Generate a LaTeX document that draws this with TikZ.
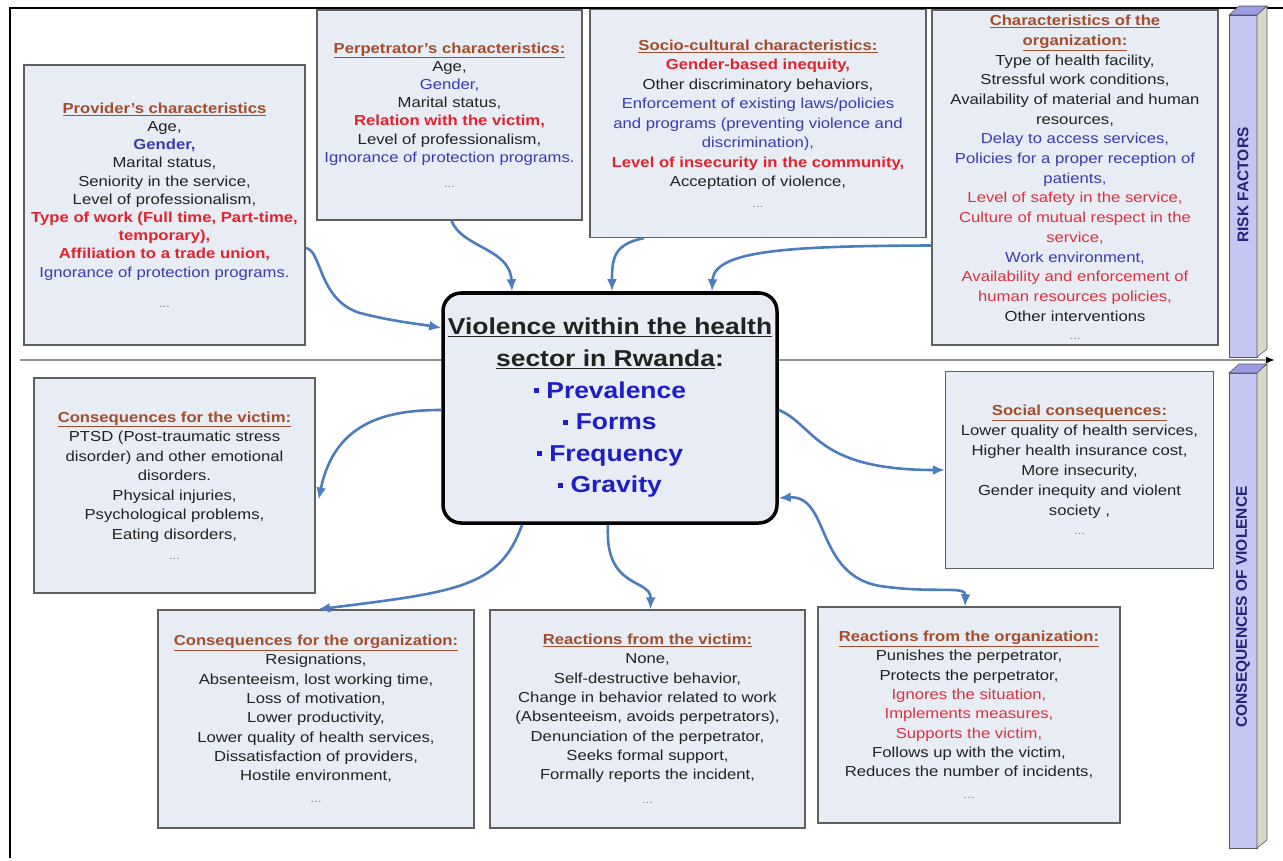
\documentclass[tikz,border=0pt]{standalone}
\usepackage{fontspec}
\setmainfont{Liberation Sans}[FakeStretch=1.15]
\newfontfamily\barfont{Liberation Sans}
\usetikzlibrary{arrows.meta,calc}
\definecolor{boxfill}{HTML}{E7ECF5}
\definecolor{boxline}{HTML}{5F5F5F}
\definecolor{ttl}{HTML}{A34E2B}
\definecolor{tblue}{HTML}{3A3AB5}
\definecolor{tred}{HTML}{E3222C}
\definecolor{tredl}{HTML}{E0303E}
\definecolor{tblack}{HTML}{222222}
\definecolor{linkblue}{HTML}{4C7DBE}
\definecolor{cblue}{HTML}{1E1EC8}
\definecolor{barfront}{HTML}{C6C6F2}
\definecolor{barside}{HTML}{D9D9C9}
\definecolor{bartop}{HTML}{9C9CE6}
\definecolor{bartext}{HTML}{23237A}
\newcommand{\mkttl}[1]{{\bfseries\color{ttl}\underline{#1}}}
\newcommand{\mkblue}[1]{{\color{tblue}#1}}
\newcommand{\mkblueb}[1]{{\color{tblue}\bfseries #1}}
\newcommand{\mkredb}[1]{{\color{tred}\bfseries #1}}
\newcommand{\mkred}[1]{{\color{tredl}#1}}
\newcommand{\mkdots}{{\color{gray}\fontsize{11}{11}\selectfont ...}}
\newcommand{\mkbullet}{\raisebox{0.22em}{\rule{0.22em}{0.22em}}}
\begin{document}
\begin{tikzpicture}[x=1pt,y=-1pt,
  >={Latex[length=12pt,width=10pt]},
  infobox/.style={draw=boxline, line width=1.3pt, fill=boxfill, inner sep=0pt,
    align=center, text=tblack},
  linkarrow/.style={draw=linkblue, line width=2.6pt, ->},
  dblarrow/.style={draw=linkblue, line width=2.6pt, <->},
  sepline/.style={draw=gray!85, line width=2pt, -{Latex[length=9pt,width=7pt,black]}},
  bartxt/.style={rotate=90, text=bartext, font=\barfont\bfseries\fontsize{15.5}{16}\selectfont},
  barface/.style={draw=gray!70!black, line width=0.6pt}
]
\useasboundingbox (0,0) rectangle (1283,861);
\fill[white] (0,0) rectangle (1283,861);
% outer frame
\draw[line width=2pt] (10,858) -- (10,8) -- (1283,8);
% separator
\coordinate (sepL) at (20,360);
\coordinate (sepR) at (1275,360);
\draw[sepline] (sepL) -- (sepR);

% right bars
\filldraw[barface, fill=barfront] (1229,15) rectangle (1257,357);
\filldraw[barface, fill=bartop] (1229,15) -- (1239,6) -- (1267,6) -- (1257,15) -- cycle;
\filldraw[barface, fill=barside] (1257,15) -- (1267,6) -- (1267,349) -- (1257,357) -- cycle;
\node[bartxt] (riskt) at (1243,185) {RISK FACTORS};
\filldraw[barface, fill=barfront] (1229,373) rectangle (1257,848);
\filldraw[barface, fill=bartop] (1229,373) -- (1239,364) -- (1267,364) -- (1257,373) -- cycle;
\filldraw[barface, fill=barside] (1257,373) -- (1267,364) -- (1267,840) -- (1257,848) -- cycle;
\node[bartxt] (const) at (1243,607) {CONSEQUENCES OF VIOLENCE};

% risk factor boxes
\node[infobox, minimum width=281, minimum height=280, font=\fontsize{14.5}{18.2}\selectfont] (prov) at (164.5,205) {%
\mkttl{Provider's characteristics}\\
Age,\\
\mkblueb{Gender,}\\
Marital status,\\
Seniority in the service,\\
Level of professionalism,\\
\mkredb{Type of work (Full time, Part-time,}\\
\mkredb{temporary),}\\
\mkredb{Affiliation to a trade union,}\\
\mkblue{Ignorance of protection programs.}\\[12pt]
\mkdots};

\node[infobox, minimum width=265, minimum height=210, font=\fontsize{14.5}{18.2}\selectfont] (perp) at (449.5,115) {%
\mkttl{Perpetrator's characteristics:}\\
Age,\\
\mkblue{Gender,}\\
Marital status,\\
\mkredb{Relation with the victim,}\\
Level of professionalism,\\
\mkblue{Ignorance of protection programs.}\\[7pt]
\mkdots};

\node[infobox, minimum width=336, minimum height=228, font=\fontsize{14.5}{19.5}\selectfont] (socio) at (758,123.5) {%
\mkttl{Socio-cultural characteristics:}\\
\mkredb{Gender-based inequity,}\\
Other discriminatory behaviors,\\
\mkblue{Enforcement of existing laws/policies}\\
\mkblue{and programs (preventing violence and}\\
\mkblue{discrimination),}\\
\mkredb{Level of insecurity in the community,}\\
Acceptation of violence,\\[1pt]
\mkdots};

\node[infobox, minimum width=286, minimum height=335, font=\fontsize{14.5}{19.7}\selectfont] (orgc) at (1075,177.5) {%
\mkttl{Characteristics of the}\\
\mkttl{organization:}\\
Type of health facility,\\
Stressful work conditions,\\
Availability of material and human\\
resources,\\
\mkblue{Delay to access services,}\\
\mkblue{Policies for a proper reception of}\\
\mkblue{patients,}\\
\mkred{Level of safety in the service,}\\
\mkred{Culture of mutual respect in the}\\
\mkred{service,}\\
\mkblue{Work environment,}\\
\mkred{Availability and enforcement of}\\
\mkred{human resources policies,}\\
Other interventions\\[-1pt]
\mkdots};

% central box
\node[draw=black, line width=3.5pt, rounded corners=18pt, fill=boxfill, inner sep=0pt,
  minimum width=334, minimum height=230, align=center, text=tblack,
  font=\bfseries\fontsize{23}{31.6}\selectfont] (ctr) at (610,408) {%
\underline{Violence within the health}\\
\underline{sector in Rwanda}:\\
{\color{cblue}\mkbullet\ Prevalence}\\
{\color{cblue}\mkbullet\ Forms}\\
{\color{cblue}\mkbullet\ Frequency}\\
{\color{cblue}\mkbullet\ Gravity}};

% consequence boxes
\node[infobox, minimum width=281, minimum height=215, font=\fontsize{14.5}{19.5}\selectfont] (vict) at (174.5,485.5) {%
\mkttl{Consequences for the victim:}\\
PTSD (Post-traumatic stress\\
disorder) and other emotional\\
disorders.\\
Physical injuries,\\
Psychological problems,\\
Eating disorders,\\[1pt]
\mkdots};

\node[infobox, minimum width=268, minimum height=197, font=\fontsize{14.5}{20}\selectfont] (social) at (1079.5,470) {%
\mkttl{Social consequences:}\\
Lower quality of health services,\\
Higher health insurance cost,\\
More insecurity,\\
Gender inequity and violent\\
society ,\\[-1pt]
\mkdots};

\node[infobox, minimum width=316, minimum height=218, font=\fontsize{14.5}{19.3}\selectfont] (corg) at (316,719) {%
\mkttl{Consequences for the organization:}\\
Resignations,\\
Absenteeism, lost working time,\\
Loss of motivation,\\
Lower productivity,\\
Lower quality of health services,\\
Dissatisfaction of providers,\\
Hostile environment,\\[3pt]
\mkdots};

\node[infobox, minimum width=315, minimum height=218, font=\fontsize{14.5}{19.3}\selectfont] (rvict) at (647.5,719) {%
\mkttl{Reactions from the victim:}\\
None,\\
Self-destructive behavior,\\
Change in behavior related to work\\
(Absenteeism, avoids perpetrators),\\
Denunciation of the perpetrator,\\
Seeks formal support,\\
Formally reports the incident,\\[5pt]
\mkdots};

\node[infobox, minimum width=302, minimum height=216, font=\fontsize{14.5}{19.3}\selectfont] (rorg) at (969,715) {%
\mkttl{Reactions from the organization:}\\
Punishes the perpetrator,\\
Protects the perpetrator,\\
\mkred{Ignores the situation,}\\
\mkred{Implements measures,}\\
\mkred{Supports the victim,}\\
Follows up with the victim,\\
Reduces the number of incidents,\\[3pt]
\mkdots};

% connectors into the central box
\draw[linkarrow] ($(prov.east)+(0,43)$) .. controls (322,250) and (318,300) .. (360,313)
  .. controls (395,322) and (420,324) .. ($(ctr.west)+(0,-80)$);
\draw[linkarrow] ($(perp.south)+(2,0)$) .. controls (462,248) and (510,248) .. ($(ctr.north)+(-98,0)$);
\draw[linkarrow] ($(socio.south)+(-114,0)$) .. controls (614,244) and (612,258) .. ($(ctr.north)+(2,0)$);
\draw[linkarrow] ($(orgc.west)+(0,68)$) .. controls (790,246) and (714,250) .. ($(ctr.north)+(102,0)$);
% connectors out of the central box
\draw[linkarrow] ($(ctr.west)+(0,2)$) .. controls (390,410) and (335,420) .. ($(vict.east)+(3,14)$);
\draw[linkarrow] ($(ctr.south)+(-88,0)$) .. controls (500,588) and (455,592) .. ($(corg.north)+(2,0)$);
\draw[linkarrow] ($(ctr.south)+(-2,0)$) .. controls (604,590) and (651,578) .. ($(rvict.north)+(3,0)$);
\draw[linkarrow] ($(ctr.east)+(0,2)$) .. controls (815,425) and (815,470) .. ($(social.west)+(0,0)$);
\draw[dblarrow] ($(ctr.east)+(0,90)$) .. controls (830,495) and (815,575) .. (880,586)
  .. controls (935,594) and (966,585) .. ($(rorg.north)+(-4,0)$);
\end{tikzpicture}
\end{document}
